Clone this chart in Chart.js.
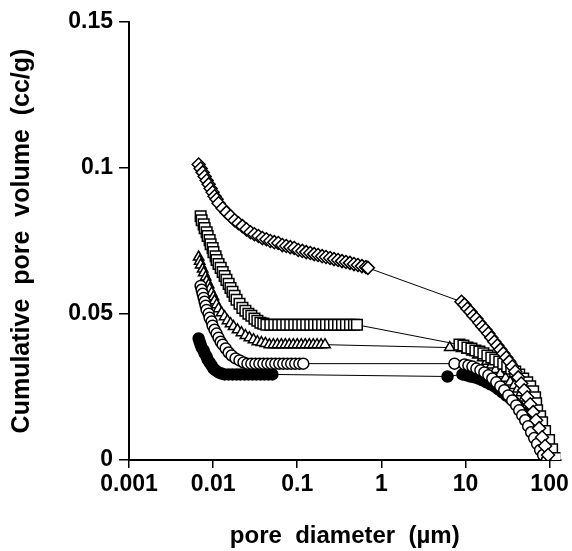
<!DOCTYPE html>
<html>
<head>
<meta charset="utf-8">
<script src="https://cdn.jsdelivr.net/npm/chart.js@4.4.0/dist/chart.umd.min.js"></script>
<style>
html, body { margin: 0; padding: 0; background: #fff; }
</style>
</head>
<body>
<canvas id="c" width="572" height="551"></canvas>
<script>
// axis ticks
const xTicks = [0.001, 0.01, 0.1, 1, 10, 100];
const xTickLabels = ['0.001', '0.01', '0.1', '1', '10', '100'];
const yTicks = [0, 0.05, 0.1, 0.15];
const yTickLabels = ['0', '0.05', '0.1', '0.15'];

// open diamonds
const diamondX = [0.00673, 0.00711, 0.00751, 0.00793, 0.00838, 0.00885, 0.00934, 0.00986, 0.0104, 0.0110, 0.0116,
  0.0130, 0.0144, 0.0161, 0.0180, 0.0200, 0.0223, 0.0249, 0.0278, 0.0310, 0.0346, 0.0385, 0.0430, 0.0479, 0.0534, 0.0596, 0.0665, 0.0741, 0.0827, 0.0922,
  0.103, 0.115, 0.128, 0.143, 0.159, 0.177, 0.198, 0.220, 0.246, 0.274, 0.306, 0.341, 0.380, 0.424, 0.473, 0.527, 0.588, 0.656, 0.692,
  8.97, 9.73, 10.56, 11.46, 12.44, 13.50, 14.65, 15.89, 17.25, 18.72, 20.31, 22.04, 23.92, 25.96, 28.17, 30.57, 33.17, 36.0, 39.07, 42.4,
  46.0, 49.9, 54.2, 58.8, 63.8, 69.2, 75.1, 81.5, 88.4, 96.0];
const diamondY = [0.1012, 0.0998, 0.0985, 0.0971, 0.0957, 0.0944, 0.0930, 0.0917, 0.0903, 0.0893, 0.0879,
  0.0862, 0.0848, 0.0835, 0.0821, 0.0811, 0.0801, 0.0790, 0.0780, 0.0773, 0.0767, 0.0760, 0.0756, 0.0750, 0.0746, 0.0743, 0.0736, 0.0733, 0.0729, 0.0726,
  0.0719, 0.0716, 0.0712, 0.0709, 0.0705, 0.0702, 0.0698, 0.0695, 0.0692, 0.0688, 0.0685, 0.0681, 0.0678, 0.0675, 0.0671, 0.0668, 0.0664, 0.0661, 0.0658,
  0.0542, 0.0532, 0.0518, 0.0508, 0.0494, 0.0484, 0.0470, 0.0457, 0.0446, 0.0433, 0.0419, 0.0405, 0.0392, 0.0378, 0.0365, 0.0351, 0.0337, 0.0320, 0.0303, 0.0283,
  0.0262, 0.0239, 0.0215, 0.0191, 0.0164, 0.0136, 0.0109, 0.0078, 0.0048, 0.0017];

// open squares
const squareX = [0.00711, 0.00731, 0.00772, 0.00793, 0.00838, 0.00861, 0.00909, 0.00934, 0.00986, 0.0101, 0.0107, 0.0110, 0.0116, 0.0123, 0.0130, 0.0137, 0.0144, 0.0153, 0.0161, 0.0170, 0.0180, 0.0190,
  0.0206, 0.0223, 0.0242, 0.0263, 0.0285, 0.0310, 0.0336, 0.0365, 0.0396, 0.0430,
  0.0479, 0.0534, 0.0596, 0.0665, 0.0741, 0.0827, 0.0922, 0.103, 0.115, 0.128, 0.143, 0.159, 0.177, 0.198, 0.220, 0.246, 0.274, 0.306, 0.341, 0.380, 0.424, 0.473, 0.513,
  8.49, 9.47, 10.56, 11.78, 13.13, 14.65, 16.33, 18.22, 20.31, 22.65, 25.26, 28.17, 31.41, 35.03, 39.07, 43.56, 48.58, 54.2, 58.8, 63.8,
  67.3, 69.2, 71.1, 77.2, 81.5, 88.4, 98.6, 107.1, 119.4];
const squareY = [0.0835, 0.0821, 0.0807, 0.0794, 0.0780, 0.0767, 0.0753, 0.0739, 0.0726, 0.0712, 0.0698, 0.0685, 0.0671, 0.0658, 0.0644, 0.0630, 0.0617, 0.0603, 0.0589, 0.0576, 0.0562, 0.0549,
  0.0535, 0.0521, 0.0511, 0.0501, 0.0494, 0.0484, 0.0477, 0.0470, 0.0467, 0.0463,
  0.0463, 0.0463, 0.0463, 0.0463, 0.0463, 0.0463, 0.0463, 0.0463, 0.0463, 0.0463, 0.0463, 0.0463, 0.0463, 0.0463, 0.0463, 0.0463, 0.0463, 0.0463, 0.0463, 0.0463, 0.0463, 0.0463, 0.0463,
  0.0395, 0.0392, 0.0385, 0.0382, 0.0375, 0.0371, 0.0365, 0.0358, 0.0351, 0.0344, 0.0337, 0.0330, 0.0320, 0.0313, 0.0303, 0.0293, 0.0279, 0.0266, 0.0252, 0.0235,
  0.0215, 0.0194, 0.0170, 0.0150, 0.0129, 0.0099, 0.0068, 0.0037, 0.0007];

// open triangles
const triangleX = [0.00673, 0.00692, 0.00711, 0.00751, 0.00772, 0.00815, 0.00838, 0.00885, 0.00909, 0.00960, 0.0101, 0.0104, 0.0110, 0.0116,
  0.0126, 0.0137, 0.0148, 0.0161, 0.0175, 0.0195, 0.0217, 0.0242, 0.0270, 0.0302, 0.0336, 0.0375, 0.0418, 0.0466,
  0.0520, 0.0580, 0.0647, 0.0721, 0.0804, 0.0897, 0.100, 0.1115, 0.1244, 0.139, 0.155, 0.172, 0.192, 0.214,
  6.5, 9.0, 10.5, 12, 14, 16, 18, 20.5, 23, 26, 30, 34, 38, 42, 46, 50, 55, 60, 65, 71, 78, 85, 92];
const triangleY = [0.0695, 0.0681, 0.0668, 0.0654, 0.0641, 0.0627, 0.0613, 0.0600, 0.0586, 0.0572, 0.0559, 0.0545, 0.0532, 0.0518,
  0.0504, 0.0491, 0.0477, 0.0467, 0.0457, 0.0446, 0.0436, 0.0426, 0.0419, 0.0412, 0.0405, 0.0402, 0.0399, 0.0395,
  0.0395, 0.0395, 0.0395, 0.0395, 0.0395, 0.0395, 0.0395, 0.0395, 0.0395, 0.0395, 0.0395, 0.0395, 0.0395, 0.0395,
  0.0385, 0.0382, 0.0377, 0.0370, 0.0360, 0.0350, 0.0338, 0.0325, 0.0310, 0.0295, 0.0280, 0.0267, 0.0255, 0.0243, 0.0230, 0.0212, 0.0190, 0.0165, 0.0140, 0.0112, 0.0085, 0.0057, 0.0030];

// open circles
const circleX = [0.00711, 0.00731, 0.00751, 0.00772, 0.00793, 0.00815, 0.00838, 0.00885, 0.00909, 0.00960, 0.00986, 0.0104, 0.0110, 0.0116, 0.0123, 0.0130,
  0.0141, 0.0153, 0.0166, 0.0185, 0.0206, 0.0230, 0.0256,
  0.0285, 0.0318, 0.0355, 0.0396, 0.0442, 0.0492, 0.0549, 0.0612, 0.0683, 0.0762, 0.0849, 0.0947, 0.106, 0.118,
  7.41, 9.73, 10.85, 12.10, 13.50, 15.05, 16.78, 18.72, 20.87, 23.28, 25.96, 28.94, 32.28, 35.99, 40.14, 43.56, 47.27, 51.30, 55.67, 60.40,
  65.56, 71.1, 77.2, 83.8, 93.4];
const circleY = [0.0596, 0.0583, 0.0569, 0.0555, 0.0542, 0.0528, 0.0514, 0.0501, 0.0487, 0.0474, 0.0460, 0.0446, 0.0433, 0.0419, 0.0405, 0.0395,
  0.0382, 0.0368, 0.0358, 0.0348, 0.0341, 0.0334, 0.0330,
  0.0330, 0.0330, 0.0330, 0.0330, 0.0330, 0.0330, 0.0330, 0.0330, 0.0330, 0.0330, 0.0330, 0.0330, 0.0330, 0.0330,
  0.0330, 0.0327, 0.0324, 0.0320, 0.0313, 0.0307, 0.0300, 0.0290, 0.0279, 0.0266, 0.0252, 0.0239, 0.0221, 0.0204, 0.0187, 0.0170, 0.0153, 0.0136, 0.0116, 0.0095,
  0.0075, 0.0055, 0.0034, 0.0017, 0.0];

// filled circles
const dotX = [0.00673, 0.00692, 0.00711, 0.00731, 0.00772, 0.00793, 0.00838, 0.00861, 0.00909, 0.00960, 0.0101, 0.0107, 0.0116, 0.0126, 0.0137,
  0.0153, 0.0170, 0.0190, 0.0211, 0.0236, 0.0263, 0.0293, 0.0327, 0.0365, 0.0407, 0.0454, 0.0506,
  6.12, 9.21, 10.27, 11.46, 12.78, 14.25, 15.89, 17.73, 19.77, 22.04, 24.58, 27.41, 30.57, 34.08, 38.01, 42.39, 47.27, 52.72, 58.8, 65.56,
  73.1, 81.5, 88.4, 96.0, 104.2, 110.0];
const dotY = [0.0416, 0.0405, 0.0395, 0.0385, 0.0375, 0.0365, 0.0354, 0.0344, 0.0334, 0.0324, 0.0313, 0.0307, 0.0300, 0.0296, 0.0293,
  0.0293, 0.0293, 0.0293, 0.0293, 0.0293, 0.0293, 0.0293, 0.0293, 0.0293, 0.0293, 0.0293, 0.0293,
  0.0286, 0.0293, 0.0290, 0.0286, 0.0283, 0.0279, 0.0273, 0.0266, 0.0259, 0.0252, 0.0242, 0.0232, 0.0221, 0.0211, 0.0198, 0.0184, 0.0170, 0.0157, 0.0140, 0.0123,
  0.0102, 0.0082, 0.0061, 0.0041, 0.0020, 0.0003];

const pts = (xs, ys) => xs.map((x, i) => ({ x: x, y: ys[i] }));
const tickFont = { family: 'Liberation Sans', size: 23, weight: 'bold' };

function series(xs, ys, style, radius, fill) {
  return {
    data: pts(xs, ys),
    showLine: true,
    borderColor: '#000',
    borderWidth: 1,
    tension: 0,
    pointStyle: style,
    pointRadius: radius,
    pointBackgroundColor: fill,
    pointBorderColor: '#000',
    pointBorderWidth: 1.5
  };
}

new Chart(document.getElementById('c'), {
  type: 'scatter',
  data: {
    datasets: [
      series(diamondX, diamondY, 'rectRot', 6.5, '#fff'),
      series(squareX, squareY, 'rect', 7.5, '#fff'),
      series(circleX, circleY, 'circle', 5.5, '#fff'),
      series(triangleX, triangleY, 'triangle', 6, '#fff'),
      series(dotX, dotY, 'circle', 5.5, '#000')
    ]
  },
  options: {
    responsive: false,
    animation: false,
    events: [],
    layout: { padding: { left: 0, right: 10, top: 22, bottom: 0 } },
    plugins: { legend: { display: false }, tooltip: { enabled: false } },
    scales: {
      x: {
        type: 'logarithmic',
        min: 0.001,
        max: 135,
        afterBuildTicks: s => { s.ticks = xTicks.map(v => ({ value: v })); },
        afterFit: s => { s.height = 91; },
        ticks: { callback: (v, i) => xTickLabels[i], font: tickFont, color: '#000', padding: 3, maxRotation: 0, autoSkip: false },
        grid: { drawOnChartArea: false, drawTicks: true, tickLength: 8, color: '#000', lineWidth: 1.5 },
        border: { display: true, color: '#000', width: 2 },
        title: { display: true, text: 'pore  diameter  (\u00b5m)', color: '#000', font: { family: 'Liberation Sans', size: 24, weight: 'bold' }, padding: { top: 0, bottom: 0 } }
      },
      y: {
        min: 0,
        max: 0.15,
        afterBuildTicks: s => { s.ticks = yTicks.map(v => ({ value: v })); },
        afterFit: s => { s.width = 129; },
        ticks: { callback: (v, i) => yTickLabels[i], font: tickFont, color: '#000', padding: 6 },
        grid: { drawOnChartArea: false, drawTicks: true, tickLength: 10, color: '#000', lineWidth: 1.5 },
        border: { display: true, color: '#000', width: 2 },
        title: { display: true, text: 'Cumulative  pore  volume  (cc/g)', color: '#000', font: { family: 'Liberation Sans', size: 25, weight: 'bold' }, padding: { top: 7, bottom: 0 } }
      }
    }
  }
});
</script>
</body>
</html>
